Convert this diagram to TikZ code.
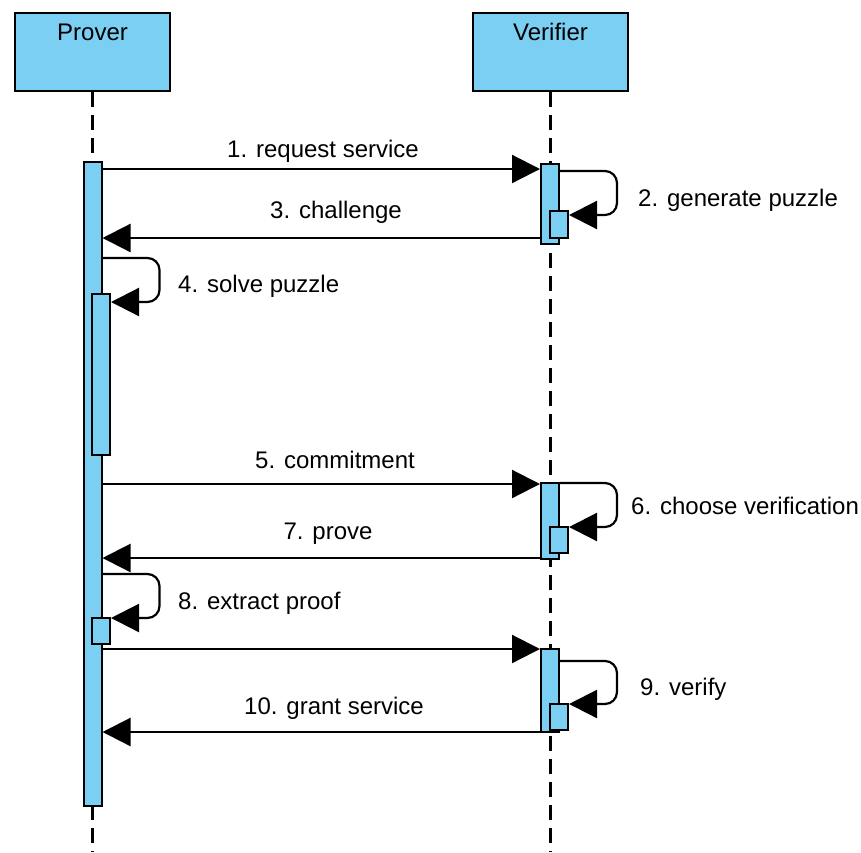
\documentclass[tikz,border=0pt]{standalone}
\usepackage{fontspec}
\setmainfont{Liberation Sans}
\usetikzlibrary{arrows.meta, positioning}
\definecolor{actfill}{RGB}{123,207,243}

\begin{document}
\begin{tikzpicture}[x=1pt, y=-1pt,
            actor/.style={draw, line width=2.2pt, fill=actfill, minimum width=155pt, text height=27pt, text depth=51pt, inner sep=0pt, anchor=north, font=\fontsize{24}{28}\selectfont},
            bar/.style={draw, line width=2pt, fill=actfill, minimum width=18pt, inner sep=0pt},
            msg/.style={line width=2.2pt, -{Triangle[length=28pt, width=28pt]}},
            loopmsg/.style={msg, rounded corners=12pt},
            lbl/.style={anchor=base, inner sep=0pt, font=\fontsize{24}{28}\selectfont},
            life/.style={line width=2.2pt, dash pattern=on 15pt off 8pt}]
            \useasboundingbox (0,0) rectangle (861,852);

            % actors and lifelines
            \node[actor] (prover) at (92.5,12) {Prover};
            \node[actor] (verifier) at (550.5,12) {Verifier};
            \coordinate (pend) at (92.5,852);
            \coordinate (vend) at (550.5,852);
            \draw[life] (prover.south) -- (pend);
            \draw[life] (verifier.south) -- (vend);

            % activation bars
            \node[bar, minimum height=644pt] (pbar) at (92.5,484) {};
            \node[bar, minimum height=161pt] (psolve) at (101,374.5) {};
            \node[bar, minimum height=26pt] (pextract) at (101,631) {};
            \node[bar, minimum height=80pt] (vbar1) at (550,204) {};
            \node[bar, minimum height=27pt] (vgen) at (559,224.5) {};
            \node[bar, minimum height=76pt] (vbar2) at (550,521) {};
            \node[bar, minimum height=26pt] (vchoose) at (559,540) {};
            \node[bar, minimum height=83pt] (vbar3) at (550,690.5) {};
            \node[bar, minimum height=26pt] (vverify) at (559,717) {};

            % message levels
            \coordinate (y1) at (0,169);
            \coordinate (y2a) at (0,171);
            \coordinate (y2b) at (0,215);
            \coordinate (y3) at (0,238);
            \coordinate (y4a) at (0,258);
            \coordinate (y4b) at (0,302);
            \coordinate (y5) at (0,484);
            \coordinate (y6a) at (0,483);
            \coordinate (y6b) at (0,527);
            \coordinate (y7) at (0,558);
            \coordinate (y8a) at (0,574);
            \coordinate (y8b) at (0,618);
            \coordinate (y9m) at (0,649);
            \coordinate (y9a) at (0,661);
            \coordinate (y9b) at (0,704);
            \coordinate (y10) at (0,732);

            \draw[msg] (pbar.east |- y1) -- (vbar1.west |- y1);
            \draw[loopmsg] (vbar1.east |- y2a) -- ++(57,0) |- (vgen.east |- y2b);
            \draw[msg] (vbar1.west |- y3) -- (pbar.east |- y3);
            \draw[loopmsg] (pbar.east |- y4a) -- ++(57,0) |- (psolve.east |- y4b);
            \draw[msg] (pbar.east |- y5) -- (vbar2.west |- y5);
            \draw[loopmsg] (vbar2.east |- y6a) -- ++(57,0) |- (vchoose.east |- y6b);
            \draw[msg] (vbar2.west |- y7) -- (pbar.east |- y7);
            \draw[loopmsg] (pbar.east |- y8a) -- ++(57,0) |- (pextract.east |- y8b);
            \draw[msg] (pbar.east |- y9m) -- (vbar3.west |- y9m);
            \draw[loopmsg] (vbar3.east |- y9a) -- ++(57,0) |- (vverify.east |- y9b);
            \draw[msg] (vbar3.west |- y10) -- (pbar.east |- y10);

            % labels
            \node[lbl] (l1) at (323,157) {1. request service};
            \node[lbl, anchor=base west] (l2) at (638,206) {2. generate puzzle};
            \node[lbl] (l3) at (336,218) {3. challenge};
            \node[lbl, anchor=base west] (l4) at (178,292) {4. solve puzzle};
            \node[lbl] (l5) at (335,468) {5. commitment};
            \node[lbl, anchor=base west] (l6) at (631,514) {6. choose verification};
            \node[lbl] (l7) at (328,539) {7. prove};
            \node[lbl, anchor=base west] (l8) at (178,609) {8. extract proof};
            \node[lbl, anchor=base west] (l9) at (640,695) {9. verify};
            \node[lbl] (l10) at (334,714) {10. grant service};
        \end{tikzpicture}
\end{document}
